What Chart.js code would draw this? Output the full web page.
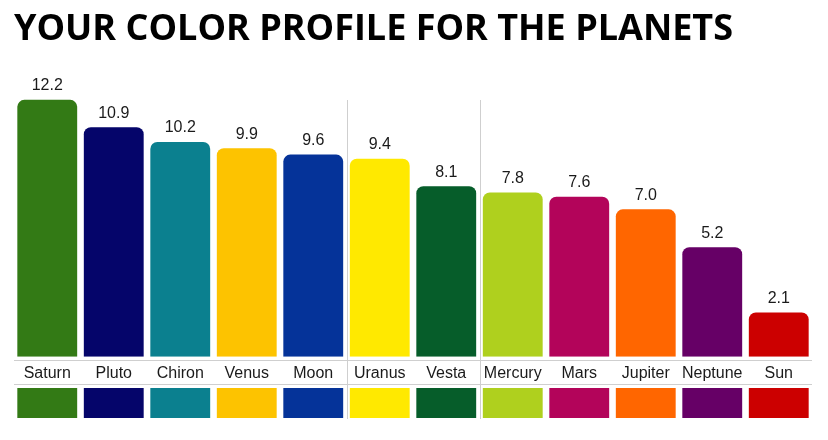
<!DOCTYPE html>
<html>
<head>
<meta charset="utf-8">
<script src="https://cdn.jsdelivr.net/npm/chart.js@4/dist/chart.umd.min.js"></script>
<style>
html,body{margin:0;padding:0;background:#fff;}
#wrap{width:828px;height:440px;position:relative;}
</style>
</head>
<body>
<div id="wrap"><canvas id="c"></canvas></div>
<script>
const titleText = "YOUR COLOR PROFILE FOR THE PLANETS";
const planets = ["Saturn","Pluto","Chiron","Venus","Moon","Uranus","Vesta","Mercury","Mars","Jupiter","Neptune","Sun"];
const scores = [12.2,10.9,10.2,9.9,9.6,9.4,8.1,7.8,7.6,7.0,5.2,2.1];
const planetColors = ["#337a15","#05056a","#0b808f","#fdc300","#053399","#ffe900","#065d2a","#afd01e","#b3045a","#ff6600","#660066","#cc0000"];
const groupStarts = [5,7];

const extras = {
  id:'extras',
  afterDraw(chart){
    const ctx = chart.ctx;
    const x = chart.scales.x;
    const meta = chart.getDatasetMeta(0);
    ctx.save();
    // title
    ctx.fillStyle = '#000';
    ctx.font = 'bold 36px "Open Sans"';
    ctx.textBaseline = 'alphabetic';
    ctx.textAlign = 'left';
    ctx.fillText(titleText, 14, 40);
    // horizontal rules
    ctx.strokeStyle = '#cfcfcf';
    ctx.lineWidth = 1;
    [360.5, 384.5].forEach(y=>{
      ctx.beginPath(); ctx.moveTo(x.left, y); ctx.lineTo(x.right, y); ctx.stroke();
    });
    // vertical group separators
    groupStarts.forEach(i=>{
      const px = Math.round((x.getPixelForValue(i-1)+x.getPixelForValue(i))/2)+0.5;
      ctx.beginPath(); ctx.moveTo(px, 100); ctx.lineTo(px, 419); ctx.stroke();
    });
    // value labels and swatches
    ctx.font = '16px "Liberation Sans"';
    ctx.textAlign = 'center';
    ctx.textBaseline = 'middle';
    meta.data.forEach((bar,i)=>{
      ctx.fillStyle = '#1a1a1a';
      ctx.fillText(scores[i].toFixed(1), bar.x, bar.y - 14);
      ctx.fillStyle = planetColors[i];
      ctx.fillRect(bar.x - bar.width/2, 388, bar.width, 30);
    });
    ctx.restore();
  }
};

new Chart(document.getElementById('c'), {
  type:'bar',
  data:{
    labels: planets,
    datasets:[{
      data: scores,
      backgroundColor: planetColors,
      borderRadius: 7,
      borderSkipped: 'bottom',
      barPercentage: 0.9,
      categoryPercentage: 1.0
    }]
  },
  options:{
    responsive:true,
    maintainAspectRatio:false,
    animation:false,
    devicePixelRatio:1,
    layout:{padding:{left:14, right:16, top:83, bottom:50}},
    plugins:{legend:{display:false}, title:{display:false}, tooltip:{enabled:false}},
    scales:{
      x:{
        grid:{display:false, drawTicks:false},
        border:{display:false},
        ticks:{color:'#1a1a1a', font:{family:'"Liberation Sans"', size:16}, padding:7, maxRotation:0, autoSkip:false}
      },
      y:{display:false, min:0, max:13}
    }
  },
  plugins:[extras]
});
</script>
</body>
</html>
